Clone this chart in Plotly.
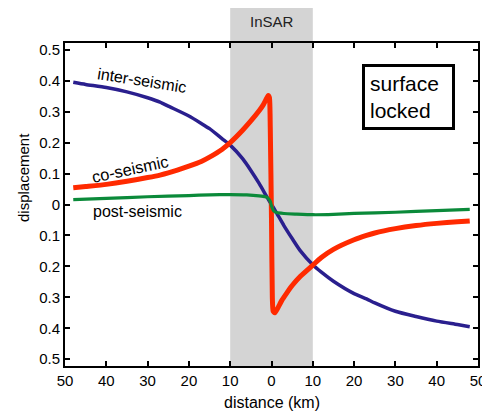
import plotly.graph_objects as go

# ---- data ----
inter_x = [-48, -45, -40, -35, -30, -27, -25, -20, -17, -15, -12, -10, -7, -5, -3, -1, 0,
           1, 3, 5, 7, 10, 12, 15, 20, 23, 25, 30, 35, 40, 45, 48]
inter_y = [0.395, 0.388, 0.378, 0.364, 0.345, 0.331, 0.318, 0.286, 0.262, 0.245, 0.213, 0.192,
           0.148, 0.110, 0.068, 0.022, 0.0,
           -0.022, -0.068, -0.110, -0.150, -0.195, -0.218, -0.248, -0.288, -0.305, -0.318,
           -0.345, -0.362, -0.377, -0.388, -0.395]

co_x = [-48, -45, -40, -35, -30, -27, -25, -20, -17, -15, -12, -10, -7, -5, -3, -2, -1.3,
        -0.8, -0.5, -0.3, 0.0, 0.2, 0.4, 0.8, 1.5, 2.5, 3.6, 5, 7, 10, 12, 15, 20, 23, 25,
        30, 35, 40, 45, 48]
co_y = [0.054, 0.058, 0.065, 0.075, 0.087, 0.095, 0.102, 0.124, 0.139, 0.153, 0.178, 0.200,
        0.240, 0.270, 0.303, 0.322, 0.340, 0.352, 0.345, 0.250, -0.050, -0.300, -0.345,
        -0.350, -0.335, -0.310, -0.288, -0.262, -0.232, -0.196, -0.172, -0.145, -0.114,
        -0.100, -0.092, -0.078, -0.068, -0.061, -0.056, -0.053]

post_x = [-48, -40, -30, -20, -15, -10, -6, -3, -1.5, -0.8, -0.3, 0.0, 0.5, 1.2, 3, 6, 10,
          15, 20, 30, 40, 48]
post_y = [0.016, 0.020, 0.025, 0.029, 0.031, 0.032, 0.031, 0.028, 0.025, 0.020, 0.010,
          -0.005, -0.020, -0.026, -0.029, -0.031, -0.033, -0.032, -0.029, -0.025, -0.020,
          -0.016]

x_ticks = [-50, -40, -30, -20, -10, 0, 10, 20, 30, 40, 50]
x_tick_text = ["50", "40", "30", "20", "10", "0", "10", "20", "30", "40", "50"]
y_ticks = [-0.5, -0.4, -0.3, -0.2, -0.1, 0, 0.1, 0.2, 0.3, 0.4, 0.5]
y_tick_text = ["0.5", "0.4", "0.3", "0.2", "0.1", "0", "0.1", "0.2", "0.3", "0.4", "0.5"]

insar_band = [-10, 10]

FONT = "Liberation Sans, Arial, Helvetica, sans-serif"

# page offset of the figure (default body margin) is compensated in the sizes below
W, H = 482, 403
ML, MR, MT, MB = 57, 12, 35, 45
PW, PH = W - ML - MR, H - MT - MB
OFF = 8  # body margin


def px_to_paper(px, py):
    return ((px - OFF - ML) / PW, (H - MB + OFF - py) / PH)


fig = go.Figure()
fig.add_trace(go.Scatter(x=inter_x, y=inter_y, mode="lines",
                         line=dict(color="#2a1f8e", width=3.5, shape="spline", smoothing=0.6),
                         hoverinfo="skip"))
fig.add_trace(go.Scatter(x=co_x, y=co_y, mode="lines",
                         line=dict(color="#ff2a00", width=5, shape="spline", smoothing=0.5),
                         hoverinfo="skip"))
fig.add_trace(go.Scatter(x=post_x, y=post_y, mode="lines",
                         line=dict(color="#0b8a3a", width=3.2, shape="spline", smoothing=0.5),
                         hoverinfo="skip"))

_, band_top = px_to_paper(0, 5)
fig.add_shape(type="rect", xref="x", yref="paper", x0=insar_band[0], x1=insar_band[1],
              y0=0, y1=band_top, fillcolor="#d4d4d4", line=dict(width=0), layer="below")

_, insar_y = px_to_paper(0, 22)
fig.add_annotation(x=0, y=insar_y, xref="x", yref="paper", text="InSAR", showarrow=False,
                   xanchor="center", yanchor="middle",
                   font=dict(size=15, color="#222", family=FONT))
fig.add_annotation(x=-31.4, y=0.402, text="inter-seismic", showarrow=False, textangle=9,
                   font=dict(size=16, color="black", family=FONT))
fig.add_annotation(x=-34.3, y=0.116, text="co-seismic", showarrow=False, textangle=-12,
                   font=dict(size=16.5, color="black", family=FONT))
fig.add_annotation(x=-32.4, y=-0.023, text="post-seismic", showarrow=False,
                   font=dict(size=16, color="black", family=FONT))
fig.add_annotation(x=33.1, y=0.346, text="surface<br>locked", showarrow=False, align="left",
                   font=dict(size=21, color="black", family=FONT),
                   bordercolor="black", borderwidth=3, borderpad=5, bgcolor="white",
                   width=77)

# axis titles placed as annotations
_, xt_y = px_to_paper(0, 402)
fig.add_annotation(x=0, y=xt_y, xref="x", yref="paper", text="distance (km)",
                   showarrow=False, xanchor="center", yanchor="middle",
                   font=dict(size=16, color="black", family=FONT))
yt_x, yt_y = px_to_paper(23, 178)
fig.add_annotation(x=yt_x, y=yt_y, xref="paper", yref="paper", text="displacement",
                   showarrow=False, textangle=-90, xanchor="center", yanchor="middle",
                   font=dict(size=15, color="black", family=FONT))

axis_common = dict(showline=True, linecolor="black", linewidth=2, mirror="ticks",
                   ticks="inside", ticklen=5, tickwidth=2, tickcolor="black",
                   showgrid=False, zeroline=False, automargin=False,
                   tickfont=dict(size=15, color="black", family=FONT))

fig.update_xaxes(range=[-50, 50], tickvals=x_ticks, ticktext=x_tick_text, **axis_common)
fig.update_yaxes(range=[-0.522, 0.522], tickvals=y_ticks, ticktext=y_tick_text,
                 **axis_common)

fig.update_layout(width=W, height=H, margin=dict(l=ML, r=MR, t=MT, b=MB),
                  paper_bgcolor="white", plot_bgcolor="white", showlegend=False)

fig.write_html("out.html")
